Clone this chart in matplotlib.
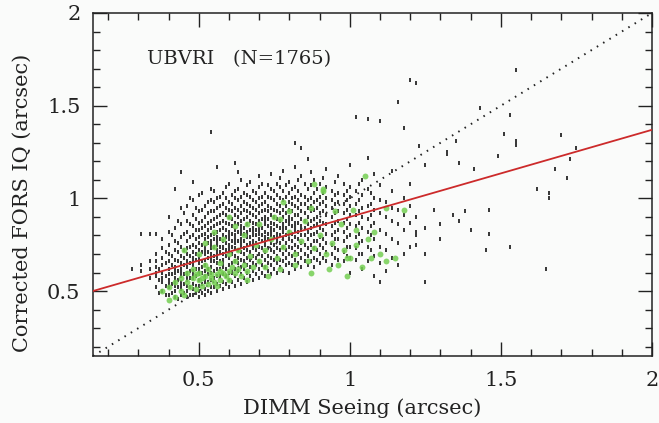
import matplotlib.pyplot as plt
from matplotlib.ticker import MultipleLocator

# DIMM seeing columns and the corrected FORS IQ values read in each column (black points)
col_x = [0.28, 0.31, 0.34, 0.36, 0.38, 0.40, 0.42, 0.44, 0.46, 0.48, 0.50, 0.52, 0.54,
         0.56, 0.58, 0.60, 0.62, 0.64, 0.66, 0.68, 0.70, 0.72, 0.74, 0.76, 0.78, 0.80,
         0.82, 0.84, 0.86, 0.88, 0.90, 0.92, 0.94, 0.96, 0.98, 1.00, 1.02, 1.04, 1.06,
         1.08, 1.10, 1.12, 1.14, 1.16, 1.18, 1.20, 1.22, 1.25]
col_y = [
    [0.62],
    [0.64, 0.61, 0.81],
    [0.62, 0.57, 0.66, 0.81],
    [0.52, 0.58, 0.63, 0.66, 0.70, 0.60, 0.81],
    [0.50, 0.55, 0.60, 0.64, 0.68, 0.73, 0.78, 0.57],
    [0.48, 0.52, 0.56, 0.59, 0.62, 0.66, 0.70, 0.75, 0.82, 0.90, 0.54],
    [0.47, 0.50, 0.53, 0.57, 0.60, 0.63, 0.67, 0.72, 0.77, 0.84, 0.61, 0.55, 1.05],
    [0.48, 0.51, 0.55, 0.58, 0.62, 0.65, 0.69, 0.74, 0.79, 0.86, 0.95, 0.53, 0.60, 1.14],
    [0.47, 0.50, 0.53, 0.56, 0.60, 0.63, 0.66, 0.70, 0.73, 0.77, 0.82, 0.88, 0.96, 0.58],
    [0.48, 0.51, 0.54, 0.57, 0.61, 0.64, 0.68, 0.71, 0.75, 0.80, 0.85, 0.91, 0.99, 0.59, 0.66, 1.09],
    [0.47, 0.50, 0.53, 0.56, 0.59, 0.62, 0.65, 0.69, 0.72, 0.76, 0.79, 0.83, 0.87, 0.93, 1.02, 0.61, 0.67],
    [0.48, 0.51, 0.55, 0.58, 0.61, 0.64, 0.67, 0.70, 0.74, 0.78, 0.81, 0.85, 0.90, 0.96, 0.57, 0.72],
    [0.49, 0.52, 0.56, 0.60, 0.63, 0.66, 0.70, 0.73, 0.77, 0.80, 0.84, 0.88, 0.93, 0.99, 1.05, 0.68, 0.75, 1.36],
    [0.50, 0.54, 0.58, 0.62, 0.65, 0.68, 0.72, 0.75, 0.79, 0.82, 0.86, 0.90, 0.95, 1.00, 0.70, 0.77, 1.17],
    [0.51, 0.55, 0.59, 0.63, 0.67, 0.70, 0.73, 0.77, 0.80, 0.84, 0.88, 0.92, 0.97, 1.03, 0.74, 0.65],
    [0.52, 0.56, 0.60, 0.64, 0.68, 0.71, 0.75, 0.78, 0.82, 0.86, 0.90, 0.94, 0.98, 1.08, 0.73, 0.80],
    [0.53, 0.58, 0.62, 0.66, 0.69, 0.73, 0.76, 0.80, 0.83, 0.87, 0.91, 0.95, 1.00, 1.04, 0.78, 1.19],
    [0.54, 0.59, 0.63, 0.67, 0.71, 0.74, 0.78, 0.81, 0.85, 0.88, 0.92, 0.96, 1.01, 1.10, 0.76, 0.83],
    [0.55, 0.60, 0.64, 0.68, 0.72, 0.75, 0.79, 0.82, 0.86, 0.90, 0.93, 0.97, 1.02, 1.07, 0.80],
    [0.56, 0.61, 0.65, 0.69, 0.73, 0.77, 0.80, 0.84, 0.87, 0.91, 0.95, 0.99, 1.04, 0.82, 0.75],
    [0.57, 0.62, 0.66, 0.70, 0.74, 0.78, 0.81, 0.85, 0.88, 0.92, 0.96, 1.00, 1.06, 1.12, 0.83],
    [0.58, 0.63, 0.67, 0.71, 0.75, 0.79, 0.82, 0.86, 0.90, 0.94, 0.98, 1.03, 0.77, 0.88],
    [0.59, 0.64, 0.68, 0.72, 0.76, 0.80, 0.84, 0.87, 0.91, 0.95, 1.00, 1.05, 1.13, 0.82],
    [0.60, 0.65, 0.69, 0.73, 0.77, 0.81, 0.85, 0.89, 0.93, 0.97, 1.02, 1.08, 0.79],
    [0.61, 0.66, 0.70, 0.74, 0.78, 0.82, 0.86, 0.90, 0.94, 0.99, 1.04, 1.15, 0.84],
    [0.60, 0.65, 0.70, 0.74, 0.78, 0.82, 0.86, 0.90, 0.94, 0.98, 1.03, 1.09, 0.88],
    [0.62, 0.67, 0.71, 0.75, 0.79, 0.83, 0.87, 0.91, 0.96, 1.01, 1.06, 1.17, 0.85, 1.30],
    [0.63, 0.68, 0.72, 0.76, 0.80, 0.85, 0.89, 0.93, 0.97, 1.02, 1.12, 0.83, 1.27],
    [0.64, 0.69, 0.73, 0.78, 0.82, 0.86, 0.90, 0.95, 0.99, 1.05, 1.21],
    [0.63, 0.68, 0.73, 0.77, 0.81, 0.85, 0.89, 0.94, 0.98, 1.03, 1.10],
    [0.65, 0.70, 0.75, 0.79, 0.84, 0.88, 0.92, 0.97, 1.01, 1.08],
    [0.66, 0.71, 0.76, 0.81, 0.86, 0.91, 0.96, 1.00, 1.06, 1.16],
    [0.64, 0.70, 0.75, 0.80, 0.85, 0.90, 0.95, 0.99, 1.04],
    [0.67, 0.72, 0.78, 0.83, 0.88, 0.93, 0.98, 1.03, 1.12],
    [0.66, 0.71, 0.77, 0.82, 0.87, 0.92, 0.97, 1.02, 1.08],
    [0.60, 0.68, 0.74, 0.80, 0.86, 0.91, 0.96, 1.01, 1.06, 1.18],
    [0.67, 0.73, 0.79, 0.85, 0.91, 0.97, 1.04, 1.44],
    [0.62, 0.70, 0.77, 0.84, 0.90, 0.95, 1.02, 1.10],
    [0.66, 0.74, 0.82, 0.89, 0.96, 1.05, 1.22, 1.43],
    [0.58, 0.69, 0.78, 0.87, 0.94, 1.00, 1.13],
    [0.55, 0.65, 0.74, 0.83, 0.92, 0.99, 1.07, 1.42],
    [0.61, 0.72, 0.81, 0.90, 0.98],
    [0.68, 0.78, 0.88, 0.95, 1.04, 1.15],
    [0.64, 0.76, 0.86, 0.94, 1.52],
    [0.70, 0.83, 0.91, 1.00, 1.38],
    [0.74, 0.87, 0.96, 1.08, 1.64],
    [0.80, 0.90, 0.82, 0.75, 1.62],
    [0.70, 0.84, 0.55, 1.18],
]

# in-between columns that fill the dense part of the cloud
mid_x = [0.37, 0.39, 0.41, 0.43, 0.45, 0.47, 0.49, 0.51, 0.53, 0.55, 0.57, 0.59, 0.61,
         0.63, 0.65, 0.67, 0.69, 0.71, 0.73, 0.75, 0.77, 0.79, 0.81, 0.83, 0.85, 0.87,
         0.89, 0.91, 0.95, 0.99, 1.03, 1.07]
mid_y = [
    [0.49, 0.56, 0.62],
    [0.48, 0.53, 0.58, 0.65, 0.71],
    [0.49, 0.54, 0.59, 0.64, 0.69, 0.80],
    [0.46, 0.52, 0.56, 0.61, 0.66, 0.71, 0.76, 0.88],
    [0.49, 0.54, 0.59, 0.64, 0.68, 0.72, 0.81, 0.92],
    [0.48, 0.52, 0.57, 0.61, 0.65, 0.69, 0.74, 0.79, 0.86, 1.00],
    [0.49, 0.53, 0.58, 0.62, 0.67, 0.70, 0.74, 0.78, 0.83, 0.89, 0.95],
    [0.49, 0.54, 0.60, 0.63, 0.66, 0.71, 0.75, 0.80, 0.84, 0.88, 0.94, 1.03],
    [0.50, 0.55, 0.59, 0.62, 0.68, 0.71, 0.76, 0.79, 0.83, 0.87, 0.92, 0.98],
    [0.52, 0.57, 0.61, 0.66, 0.69, 0.74, 0.78, 0.81, 0.85, 0.89, 0.93, 0.98, 1.04],
    [0.53, 0.58, 0.62, 0.66, 0.71, 0.74, 0.78, 0.83, 0.87, 0.91, 0.96, 1.01],
    [0.54, 0.58, 0.62, 0.69, 0.72, 0.76, 0.79, 0.83, 0.87, 0.91, 0.95, 1.00, 1.06],
    [0.55, 0.60, 0.65, 0.70, 0.74, 0.77, 0.81, 0.85, 0.89, 0.93, 0.97, 1.02],
    [0.56, 0.61, 0.65, 0.68, 0.72, 0.77, 0.82, 0.86, 0.90, 0.94, 0.99, 1.05, 1.14],
    [0.57, 0.62, 0.66, 0.70, 0.73, 0.77, 0.81, 0.84, 0.89, 0.94, 0.98, 1.03],
    [0.58, 0.63, 0.67, 0.71, 0.76, 0.79, 0.83, 0.88, 0.92, 0.96, 1.01, 1.09],
    [0.59, 0.64, 0.68, 0.72, 0.76, 0.80, 0.83, 0.86, 0.90, 0.94, 0.98, 1.03],
    [0.60, 0.64, 0.69, 0.73, 0.77, 0.80, 0.84, 0.89, 0.93, 0.97, 1.01, 1.08],
    [0.61, 0.65, 0.69, 0.73, 0.78, 0.81, 0.85, 0.89, 0.93, 0.96, 1.01, 1.07],
    [0.62, 0.67, 0.71, 0.75, 0.79, 0.83, 0.86, 0.90, 0.94, 0.99, 1.04],
    [0.63, 0.67, 0.72, 0.76, 0.80, 0.84, 0.88, 0.92, 0.96, 1.00, 1.06, 1.11],
    [0.64, 0.68, 0.72, 0.76, 0.80, 0.84, 0.88, 0.92, 0.96, 1.01, 1.07],
    [0.64, 0.69, 0.73, 0.77, 0.81, 0.85, 0.89, 0.93, 0.97, 1.00, 1.05],
    [0.65, 0.70, 0.74, 0.78, 0.82, 0.87, 0.91, 0.95, 0.99, 1.04, 1.10],
    [0.66, 0.70, 0.75, 0.80, 0.84, 0.88, 0.92, 0.97, 1.01, 1.08],
    [0.66, 0.71, 0.75, 0.80, 0.84, 0.88, 0.93, 0.96, 1.00, 1.07, 1.14],
    [0.67, 0.72, 0.77, 0.82, 0.86, 0.90, 0.95, 0.99, 1.05],
    [0.68, 0.73, 0.78, 0.83, 0.87, 0.93, 0.98, 1.03, 1.11],
    [0.68, 0.73, 0.78, 0.82, 0.87, 0.92, 0.97, 1.02, 1.09],
    [0.69, 0.74, 0.79, 0.84, 0.89, 0.94, 0.99, 1.04],
    [0.70, 0.76, 0.81, 0.87, 0.93, 0.99, 1.08],
    [0.72, 0.80, 0.85, 0.91, 0.97, 1.03],
]

# scattered points beyond the main cloud
far_x = [1.28, 1.30, 1.32, 1.32, 1.34, 1.36, 1.38, 1.40, 1.41, 1.43, 1.46, 1.46, 1.45,
         1.49, 1.51, 1.53, 1.53, 1.55, 1.55, 1.55, 1.62, 1.65, 1.66, 1.66, 1.68, 1.70,
         1.72, 1.73, 1.75, 1.23, 1.35, 1.30, 1.36]
far_y = [0.94, 0.86, 1.25, 1.24, 0.91, 0.88, 0.93, 0.83, 1.16, 1.49, 0.94, 0.81, 0.72,
         1.23, 1.35, 1.45, 0.74, 1.69, 1.31, 1.29, 1.05, 0.62, 1.03, 1.00, 1.16, 1.34,
         1.11, 1.21, 1.27, 1.28, 1.31, 0.78, 1.19]

# green subsample
green_x = [0.46, 0.48, 0.50, 0.52, 0.54, 0.56, 0.58, 0.60, 0.62, 0.50, 0.53, 0.55, 0.57,
           0.59, 0.61, 0.63, 0.65, 0.47, 0.49, 0.51, 0.53, 0.44, 0.42, 0.40, 0.45, 0.56,
           0.60, 0.64, 0.66, 0.68, 0.52, 0.48, 0.46, 0.44, 0.42, 0.40, 0.38, 0.57, 0.62,
           0.45, 0.50, 0.55, 0.58, 0.60, 0.63, 0.65, 0.67, 0.69, 0.70, 0.72, 0.74, 0.76,
           0.78, 0.80, 0.82, 0.84, 0.86, 0.88, 0.90, 0.92, 0.94, 0.96, 0.98, 1.00, 1.02,
           1.04, 1.06, 1.08, 1.10, 1.12, 1.15, 0.70, 0.75, 0.80, 0.85, 0.87, 0.91, 0.62,
           0.66, 0.78, 0.88, 0.91, 0.55, 0.52, 0.60, 0.72, 0.77, 0.82, 0.87, 0.93, 0.99,
           0.66, 0.73, 0.97, 1.01, 1.02, 1.07, 1.12, 1.18, 1.05, 0.99, 0.95, 0.77, 0.54,
           0.57, 0.51, 0.49]
green_y = [0.55, 0.57, 0.56, 0.58, 0.57, 0.59, 0.60, 0.61, 0.60, 0.60, 0.62, 0.55, 0.56,
           0.58, 0.63, 0.62, 0.64, 0.52, 0.51, 0.53, 0.54, 0.50, 0.47, 0.45, 0.48, 0.53,
           0.56, 0.58, 0.61, 0.63, 0.64, 0.62, 0.60, 0.57, 0.55, 0.52, 0.50, 0.65, 0.66,
           0.72, 0.70, 0.74, 0.78, 0.70, 0.72, 0.80, 0.69, 0.75, 0.66, 0.72, 0.78, 0.68,
           0.74, 0.82, 0.70, 0.77, 0.66, 0.73, 0.80, 0.70, 0.76, 0.64, 0.72, 0.68, 0.75,
           0.63, 0.78, 0.82, 0.70, 0.66, 0.68, 0.86, 0.90, 0.93, 0.88, 0.95, 1.05, 0.85,
           0.86, 0.98, 1.08, 1.04, 0.82, 0.76, 0.90, 0.63, 0.62, 0.64, 0.60, 0.62, 0.58,
           0.56, 0.58, 0.86, 0.94, 0.83, 0.68, 0.95, 0.94, 1.12, 0.68, 0.93, 0.89, 0.59,
           0.61, 0.57, 0.59]

# linear fit (red) and one-to-one line (dotted)
fit_intercept = 0.43
fit_slope = 0.47
x_range = [0.15, 2.0]

black_x = ([x for x, ys in zip(col_x, col_y) for _ in ys]
           + [x for x, ys in zip(mid_x, mid_y) for _ in ys] + far_x)
black_y = [y for ys in col_y for y in ys] + [y for ys in mid_y for y in ys] + far_y

fig = plt.figure(figsize=(6.59, 4.23), dpi=100)
fig.patch.set_facecolor('#fafbfa')
ax = fig.add_axes([93 / 659, 1 - 356 / 423, 559 / 659, 343 / 423])
ax.set_facecolor('#fafbfa')

# little vertical dash marker for the black points
dash = [(-0.5, -1.0), (0.5, -1.0), (0.5, 1.0), (-0.5, 1.0)]
ax.scatter(black_x, black_y, marker=dash, s=9, color='#3a3a3a', linewidths=0, zorder=2)
ax.scatter(green_x, green_y, s=18, color='#74cf52', alpha=0.85, linewidths=0, zorder=3)

ax.plot(x_range, x_range, color='#222222', lw=1.4, linestyle=(0, (0.8, 3.0)), zorder=1)
ax.plot(x_range, [fit_intercept + fit_slope * x for x in x_range],
        color='#cc2a2a', lw=1.3, zorder=4)

ax.set_xlim(0.15, 2.0)
ax.set_ylim(0.15, 2.0)
ax.xaxis.set_major_locator(MultipleLocator(0.5))
ax.xaxis.set_minor_locator(MultipleLocator(0.1))
ax.yaxis.set_major_locator(MultipleLocator(0.5))
ax.yaxis.set_minor_locator(MultipleLocator(0.1))
ax.xaxis.set_major_formatter(lambda v, p: '%g' % v)
ax.yaxis.set_major_formatter(lambda v, p: '%g' % v)

serif = 'DejaVu Serif'
ax.tick_params(which='both', direction='in', top=True, right=True, width=1.0,
               color='#222222')
ax.tick_params(which='major', length=10)
ax.tick_params(which='minor', length=5)
ax.tick_params(axis='x', pad=11)
ax.tick_params(axis='y', pad=9)
for lab in ax.get_xticklabels() + ax.get_yticklabels():
    lab.set_fontfamily(serif)
    lab.set_fontsize(15)
    lab.set_color('#222222')
for s in ax.spines.values():
    s.set_linewidth(1.1)
    s.set_color('#222222')

ax.text(0.33, 1.75, 'UBVRI   (N=1765)', fontsize=14, family=serif,
        color='#222222', va='center')
fig.text(362 / 659, 1 - 408 / 423, 'DIMM Seeing (arcsec)', fontsize=15,
         family=serif, color='#222222', ha='center', va='center')
fig.text(22 / 659, 1 - 203 / 423, 'Corrected FORS IQ (arcsec)', fontsize=15,
         family=serif, color='#222222', ha='center', va='center', rotation=90)

fig.savefig('out.png', dpi=100, facecolor=fig.get_facecolor())
